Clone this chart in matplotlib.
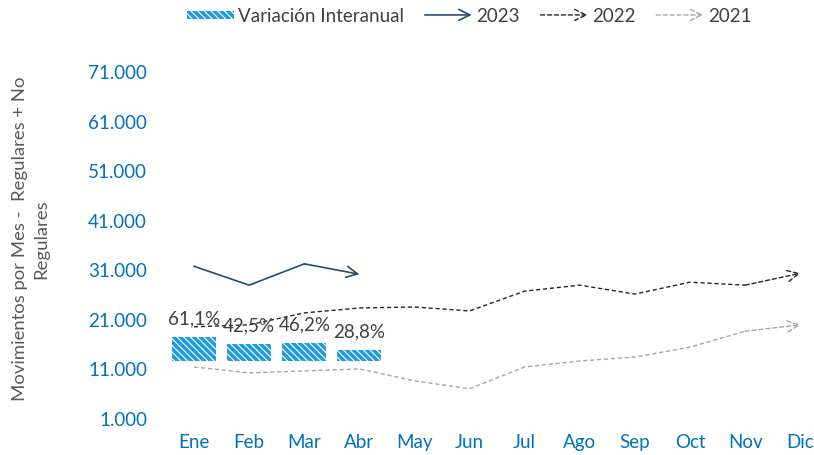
import matplotlib
matplotlib.use("Agg")
import matplotlib.pyplot as plt
from matplotlib.patches import FancyArrowPatch, Rectangle
from matplotlib.legend_handler import HandlerBase

plt.rcParams['font.family'] = ['Lato', 'DejaVu Sans']
plt.rcParams['hatch.linewidth'] = 0.8

months = ["Ene", "Feb", "Mar", "Abr", "May", "Jun", "Jul", "Ago", "Sep", "Oct", "Nov", "Dic"]
y2023 = [31800, 28000, 32300, 30200]
y2022 = [19600, 20000, 22400, 23400, 23600, 22800, 26800, 28000, 26200, 28600, 28000, 30400]
y2021 = [11500, 10300, 10700, 11100, 8700, 7100, 11500, 12700, 13500, 15500, 18700, 20000]
variacion = [61.1, 42.5, 46.2, 28.8]
var_labels = ["61,1%", "42,5%", "46,2%", "28,8%"]
yticks = [1000, 11000, 21000, 31000, 41000, 51000, 61000, 71000]
ytick_labels = ["1.000", "11.000", "21.000", "31.000", "41.000", "51.000", "61.000", "71.000"]

C2023 = "#1F4E79"
C2022 = "#262626"
C2021 = "#A6A6A6"
CBAR = "#1F9BDE"
CTICK = "#0070C0"
FS = 13.5
HATCH = "\\" * 5

fig = plt.figure(figsize=(8.14, 4.55), dpi=100)
ax = fig.add_axes([166.5 / 814, 36 / 455, 1 - 166.5 / 814, (419 - 72) / 455])
ax2 = ax.twinx()

x = list(range(len(months)))
ax.set_xlim(-0.5, 11.25)
ax.set_ylim(1000, 71000)
ax.set_yticks(yticks)
ax.set_yticklabels(ytick_labels, color=CTICK, fontsize=FS)
ax.set_xticks(x)
ax.set_xticklabels(months, color=CTICK, fontsize=FS)
ax.tick_params(axis='y', length=0, pad=14)
ax.tick_params(axis='x', length=0, pad=11)
for s in ax.spines.values():
    s.set_visible(False)
for s in ax2.spines.values():
    s.set_visible(False)


def arrow_line(axis, xs, ys, color, ls, lw):
    axis.plot(xs[:-1], ys[:-1], color=color, ls=ls, lw=lw, zorder=3)
    axis.annotate("", xy=(xs[-1], ys[-1]), xytext=(xs[-2], ys[-2]),
                  arrowprops=dict(arrowstyle="->,head_length=0.8,head_width=0.4",
                                  color=color, lw=lw, ls=ls, shrinkA=0, shrinkB=0),
                  zorder=3)


arrow_line(ax, x[:len(y2023)], y2023, C2023, "-", 1.2)
arrow_line(ax, x, y2022, C2022, (0, (3, 2)), 1.0)
arrow_line(ax, x, y2021, C2021, (0, (3, 2)), 1.0)

ax2.set_ylim(-149, 741)
ax2.set_yticks([])
bx = x[:len(variacion)]
bars = ax2.bar(bx, variacion, width=0.8, color=CBAR, edgecolor="white",
               hatch=HATCH, linewidth=0, zorder=2)
for xi, v, lab in zip(bx, variacion, var_labels):
    ax2.annotate(lab, (xi, v), xytext=(0, 13), textcoords="offset points",
                 ha="center", va="center", fontsize=FS, color="#404040")


class HandlerArrow(HandlerBase):
    def __init__(self, color, ls, lw):
        super().__init__()
        self.color, self.ls, self.lw = color, ls, lw

    def create_artists(self, legend, orig_handle, xdescent, ydescent, width, height, fontsize, trans):
        y = height / 2 - ydescent
        a = FancyArrowPatch((-xdescent, y), (-xdescent + width, y),
                            arrowstyle="->,head_length=0.8,head_width=0.4",
                            color=self.color, lw=self.lw, ls=self.ls,
                            mutation_scale=10, shrinkA=0, shrinkB=0, transform=trans)
        return [a]


class HandlerHatch(HandlerBase):
    def create_artists(self, legend, orig_handle, xdescent, ydescent, width, height, fontsize, trans):
        r = Rectangle((-xdescent, -ydescent + height * 0.2), width, height * 0.6,
                      facecolor=CBAR, edgecolor="white", hatch=HATCH, lw=0, transform=trans)
        return [r]


h_bar = Rectangle((0, 0), 1, 1)
h23 = Rectangle((0, 0), 1, 1)
h22 = Rectangle((0, 0), 1, 1)
h21 = Rectangle((0, 0), 1, 1)
fig.legend([h_bar, h23, h22, h21], ["Variación Interanual", "2023", "2022", "2021"],
           handler_map={h_bar: HandlerHatch(),
                        h23: HandlerArrow(C2023, "-", 1.2),
                        h22: HandlerArrow(C2022, (0, (3, 2)), 1.0),
                        h21: HandlerArrow(C2021, (0, (3, 2)), 1.0)},
           loc="center", bbox_to_anchor=(469 / 814, 1 - 16 / 455), ncol=4, frameon=False,
           fontsize=FS, handlelength=2.5, handletextpad=0.25, columnspacing=1.1,
           labelcolor="#404040")

fig.text(31 / 814, 1 - 239 / 455, "Movimientos por Mes -  Regulares + No\nRegulares",
         rotation=90, ha="center", va="center", multialignment="center",
         fontsize=13.3, color="#595959", linespacing=1.4)

fig.savefig("out.png", dpi=100)
